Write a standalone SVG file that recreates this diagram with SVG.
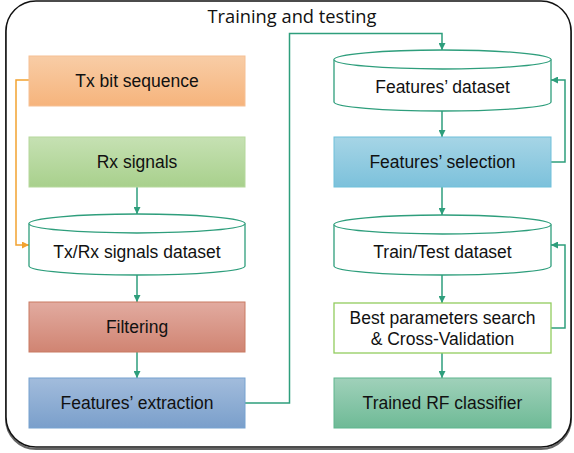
<svg xmlns="http://www.w3.org/2000/svg" width="574" height="453" viewBox="0 0 574 453">
<defs>
<linearGradient id="gOr" x1="0" y1="0" x2="0" y2="1"><stop offset="0" stop-color="#F8CDA6"/><stop offset="1" stop-color="#F6B47C"/></linearGradient>
<linearGradient id="gGr" x1="0" y1="0" x2="0" y2="1"><stop offset="0" stop-color="#C6E1B3"/><stop offset="1" stop-color="#A8D08C"/></linearGradient>
<linearGradient id="gRd" x1="0" y1="0" x2="0" y2="1"><stop offset="0" stop-color="#E2ABA0"/><stop offset="1" stop-color="#D08472"/></linearGradient>
<linearGradient id="gBl" x1="0" y1="0" x2="0" y2="1"><stop offset="0" stop-color="#A2BCDC"/><stop offset="1" stop-color="#7A9FCB"/></linearGradient>
<linearGradient id="gCy" x1="0" y1="0" x2="0" y2="1"><stop offset="0" stop-color="#A6D5E6"/><stop offset="1" stop-color="#7CC1DB"/></linearGradient>
<linearGradient id="gTe" x1="0" y1="0" x2="0" y2="1"><stop offset="0" stop-color="#A0D1BA"/><stop offset="1" stop-color="#6EBA96"/></linearGradient>
<marker id="ag" viewBox="0 0 10 10" refX="10" refY="5" markerWidth="7" markerHeight="7" markerUnits="userSpaceOnUse" orient="auto"><path d="M0,0 L10,5 L0,10 z" fill="#2E9E7C"/></marker>
<marker id="ao" viewBox="0 0 10 10" refX="10" refY="5" markerWidth="7" markerHeight="7" markerUnits="userSpaceOnUse" orient="auto"><path d="M0,0 L10,5 L0,10 z" fill="#F2A230"/></marker>
</defs>
<style>
.lbl{font-family:"Liberation Sans",Arial,sans-serif;font-size:17.5px;fill:#111;text-anchor:middle}
.ttl{font-family:"Open Sans","Noto Sans",sans-serif;font-size:19px;fill:#111;text-anchor:middle}
.c{fill:none;stroke:#2E9E7C;stroke-width:1.5}
.o{fill:none;stroke:#F2A230;stroke-width:1.5}
.cyl{fill:#fff;stroke:#2E9E7C;stroke-width:1.3}
</style>
<rect x="6" y="3" width="565" height="446" rx="30" fill="none" stroke="#666" stroke-width="2"/>
<rect x="6" y="1" width="565" height="446" rx="30" fill="#fff" stroke="#111" stroke-width="1.5"/>
<text class="ttl" x="292" y="23" textLength="169" lengthAdjust="spacingAndGlyphs">Training and testing</text>

<g id="connectors">
<path class="o" d="M29,80 H16 V245 H29" marker-end="url(#ao)"/>
<path class="c" d="M137,187 V214" marker-end="url(#ag)"/>
<path class="c" d="M137,275 V302" marker-end="url(#ag)"/>
<path class="c" d="M137,352 V378" marker-end="url(#ag)"/>
<path class="c" d="M245,403 H289.5 V33.5 H442 V50" marker-end="url(#ag)"/>
<path class="c" d="M442,111 V137" marker-end="url(#ag)"/>
<path class="c" d="M551,162 H565 V80 H551" marker-end="url(#ag)"/>
<path class="c" d="M442,187 V215" marker-end="url(#ag)"/>
<path class="c" d="M442,275 V303" marker-end="url(#ag)"/>
<path class="c" d="M551,328 H565 V245 H551" marker-end="url(#ag)"/>
<path class="c" d="M442,353 V378" marker-end="url(#ag)"/>
</g>

<g id="tx-bit">
<rect x="29" y="56" width="216" height="50" fill="url(#gOr)" stroke="#F6C094" stroke-width="1"/>
<text class="lbl" x="137" y="87">Tx bit sequence</text>
</g>
<g id="rx-signals">
<rect x="29" y="137" width="216" height="50" fill="url(#gGr)" stroke="#B5D89C" stroke-width="1"/>
<text class="lbl" x="137" y="168">Rx signals</text>
</g>
<g id="txrx-dataset">
<path class="cyl" d="M29,223.5 V266 A108,9 0 0 0 245,266 V223.5 A108,9.5 0 0 0 29,223.5 Z"/>
<path class="cyl" d="M29,223.5 A108,9.5 0 0 0 245,223.5" fill="none"/>
<text class="lbl" x="137" y="258">Tx/Rx signals dataset</text>
</g>
<g id="filtering">
<rect x="29" y="302" width="216" height="50" fill="url(#gRd)" stroke="#C97A63" stroke-width="1"/>
<text class="lbl" x="137" y="333">Filtering</text>
</g>
<g id="features-extraction">
<rect x="29" y="378" width="216" height="50" fill="url(#gBl)" stroke="#76A2D0" stroke-width="1"/>
<text class="lbl" x="137" y="409">Features’ extraction</text>
</g>
<g id="features-dataset">
<path class="cyl" d="M334,59.5 V102 A108.5,9 0 0 0 551,102 V59.5 A108.5,9.5 0 0 0 334,59.5 Z"/>
<path class="cyl" d="M334,59.5 A108.5,9.5 0 0 0 551,59.5" fill="none"/>
<text class="lbl" x="442.5" y="93">Features’ dataset</text>
</g>
<g id="features-selection">
<rect x="334" y="137" width="217" height="50" fill="url(#gCy)" stroke="#6EC0DA" stroke-width="1"/>
<text class="lbl" x="442.5" y="168">Features’ selection</text>
</g>
<g id="train-test">
<path class="cyl" d="M334,224.5 V266 A108.5,9 0 0 0 551,266 V224.5 A108.5,9.5 0 0 0 334,224.5 Z"/>
<path class="cyl" d="M334,224.5 A108.5,9.5 0 0 0 551,224.5" fill="none"/>
<text class="lbl" x="442.5" y="258">Train/Test dataset</text>
</g>
<g id="best-params">
<rect x="334" y="303" width="217" height="50" fill="#fff" stroke="#92CC5E" stroke-width="1.3"/>
<text class="lbl" x="442.5" y="324">Best parameters search</text>
<text class="lbl" x="442.5" y="345">&amp; Cross-Validation</text>
</g>
<g id="trained-rf">
<rect x="334" y="378" width="217" height="50" fill="url(#gTe)" stroke="#5EB68E" stroke-width="1"/>
<text class="lbl" x="442.5" y="409">Trained RF classifier</text>
</g>
</svg>
